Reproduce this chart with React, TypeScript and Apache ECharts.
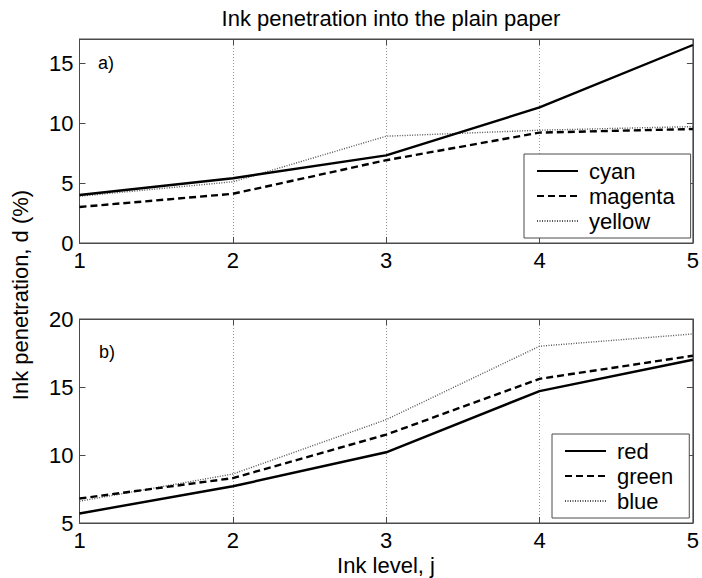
import React, { useEffect, useRef } from "react";
import * as echarts from "echarts";

const inkLevels = [1, 2, 3, 4, 5];
const cyanVals = [4.0, 5.4, 7.3, 11.3, 16.5];
const magentaVals = [3.0, 4.1, 6.9, 9.2, 9.5];
const yellowVals = [3.9, 5.1, 8.9, 9.4, 9.7];
const redVals = [5.7, 7.7, 10.2, 14.7, 17.0];
const greenVals = [6.8, 8.3, 11.5, 15.6, 17.3];
const blueVals = [6.6, 8.6, 12.6, 18.0, 18.9];

const titleText = "Ink penetration into the plain paper";
const xName = "Ink level, j";
const yName = "Ink penetration, d (%)";

const FONT = "Liberation Sans, Arial, Helvetica, sans-serif";
const AXIS_COLOR = "#4a4a4a";

const pairs = (vals: number[]) => inkLevels.map((x, i) => [x, vals[i]]);

export default function App() {
  const ref = useRef<HTMLDivElement>(null);
  useEffect(() => {
    if (!ref.current) return;
    const chart = echarts.init(ref.current, undefined, { renderer: "svg" });

    const gridTop = { left: 79.5, top: 39, width: 613.5, height: 204 };
    const gridBot = { left: 79.5, top: 319, width: 613.5, height: 204 };

    const tickStyle = { show: true, inside: true, length: 6, lineStyle: { color: AXIS_COLOR, width: 1 } };
    const labelStyle = { color: "#000", fontSize: 22, fontFamily: FONT };

    const mkX = (gridIndex: number, position: string, main: boolean) => ({
      type: "value",
      gridIndex,
      position,
      min: 1,
      max: 5,
      interval: 1,
      axisLine: { show: true, onZero: false, lineStyle: { color: AXIS_COLOR, width: 1 } },
      axisTick: tickStyle,
      axisLabel: main ? { ...labelStyle, margin: 6 } : { show: false },
      splitLine: main
        ? { show: true, lineStyle: { color: "#9a9a9a", width: 1, type: [1, 2] } }
        : { show: false },
    });

    const mkY = (gridIndex: number, position: string, main: boolean, min: number, max: number) => ({
      type: "value",
      gridIndex,
      position,
      min,
      max,
      interval: 5,
      axisLine: { show: true, onZero: false, lineStyle: { color: AXIS_COLOR, width: 1 } },
      axisTick: tickStyle,
      axisLabel: main ? { ...labelStyle, margin: 6, showMaxLabel: max % 5 === 0 } : { show: false },
      splitLine: { show: false },
    });

    const solid = { color: "#000", width: 2.4, type: "solid" };
    const dashed = { color: "#000", width: 2.4, type: [7, 4] };
    const dotted = { color: "#555", width: 1.4, type: [1, 1.5] };

    const mkSeries = (name: string, vals: number[], idx: number, ls: any) => ({
      type: "line",
      name,
      xAxisIndex: idx,
      yAxisIndex: idx,
      data: pairs(vals),
      symbol: "none",
      showSymbol: false,
      lineStyle: ls,
      itemStyle: { color: ls.color },
      z: ls === dotted ? 1 : 2,
    });

    const legendCommon = {
      orient: "vertical",
      backgroundColor: "#fff",
      borderColor: AXIS_COLOR,
      borderWidth: 1,
      borderRadius: 0,
      itemWidth: 41,
      itemHeight: 14,
      itemGap: 3,
      itemStyle: { opacity: 0 },
      textStyle: { color: "#000", fontSize: 22, fontFamily: FONT, lineHeight: 22, padding: [0, 0, 0, 6] },
      selectedMode: false,
    };

    chart.setOption({
      animation: false,
      backgroundColor: "#fff",
      title: {
        text: titleText,
        left: 386,
        top: 2,
        textAlign: "center",
        textStyle: { color: "#000", fontSize: 22, fontWeight: "normal", fontFamily: FONT },
      },
      grid: [
        { ...gridTop, show: true, borderColor: AXIS_COLOR, borderWidth: 1, backgroundColor: "#fff" },
        { ...gridBot, show: true, borderColor: AXIS_COLOR, borderWidth: 1, backgroundColor: "#fff" },
      ],
      xAxis: [
        mkX(0, "bottom", true),
        mkX(1, "bottom", true),
        mkX(0, "top", false),
        mkX(1, "top", false),
      ],
      yAxis: [
        mkY(0, "left", true, 0, 17),
        mkY(1, "left", true, 5, 20),
        mkY(0, "right", false, 0, 17),
        mkY(1, "right", false, 5, 20),
      ],
      legend: [
        {
          ...legendCommon,
          data: ["cyan", "magenta", "yellow"],
          left: 524,
          top: 154,
          padding: [6, 16, 6, 12],
        },
        {
          ...legendCommon,
          data: ["red", "green", "blue"],
          left: 552,
          top: 434,
          padding: [6, 16, 6, 12],
        },
      ],
      series: [
        mkSeries("cyan", cyanVals, 0, solid),
        mkSeries("magenta", magentaVals, 0, dashed),
        mkSeries("yellow", yellowVals, 0, dotted),
        mkSeries("red", redVals, 1, solid),
        mkSeries("green", greenVals, 1, dashed),
        mkSeries("blue", blueVals, 1, dotted),
      ],
      graphic: [
        {
          type: "text",
          left: 98,
          top: 54,
          style: { text: "a)", fontSize: 18, fontFamily: FONT, fill: "#000" },
        },
        {
          type: "text",
          left: 99,
          top: 343,
          style: { text: "b)", fontSize: 18, fontFamily: FONT, fill: "#000" },
        },
        {
          type: "text",
          x: 20,
          y: 295,
          rotation: Math.PI / 2,
          style: {
            text: yName,
            fontSize: 22,
            fontFamily: FONT,
            fill: "#000",
            align: "center",
            verticalAlign: "middle",
          },
        },
        {
          type: "text",
          x: 386,
          y: 565,
          style: {
            text: xName,
            fontSize: 22,
            fontFamily: FONT,
            fill: "#000",
            align: "center",
            verticalAlign: "middle",
          },
        },
      ],
    });
    return () => chart.dispose();
  }, []);

  return (
    <div
      ref={ref}
      style={{ position: "fixed", left: 0, top: 0, width: 702, height: 578, background: "#fff" }}
    />
  );
}
